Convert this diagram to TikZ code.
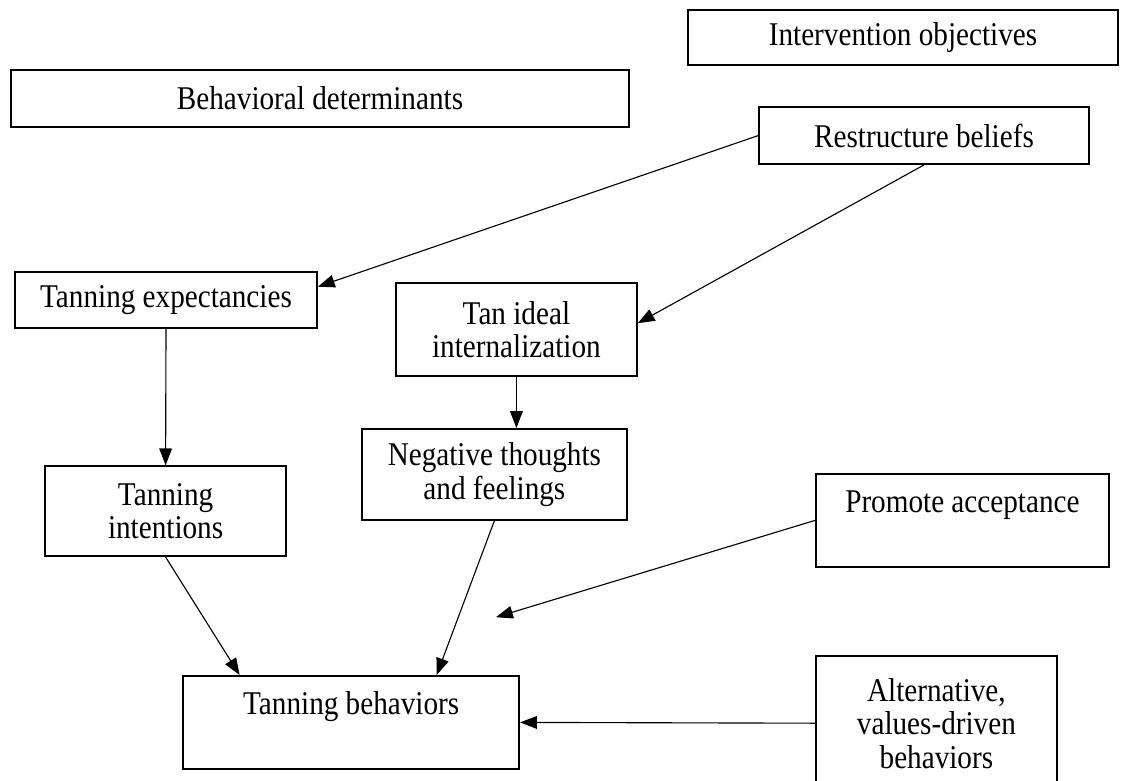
\documentclass[tikz,border=0pt]{standalone}
\usepackage{fontspec}
\setmainfont[FakeStretch=0.88]{Liberation Serif}
\usetikzlibrary{arrows.meta}
\tikzset{
  model box/.style={draw,line width=1.2pt,inner sep=0pt,align=center,
    font=\fontsize{23.6}{23.8}\selectfont},
  top text/.style={text depth=0.95cm},
  model arrow/.style={line width=.8pt,-{Triangle[length=12pt,width=9pt]}}
}

\begin{document}
\begin{tikzpicture}[line join=miter]
  \useasboundingbox (0,0) rectangle (28.075,-19.525);
  \clip (0,0) rectangle (28.075,-19.525);

  % Column headings.
  \node[model box,minimum width=10.75cm,minimum height=1.375cm] (objectives) at (22.575,-0.94) {Intervention objectives};
  \node[model box,minimum width=15.45cm,minimum height=1.425cm] (determinants) at (8.0,-2.46) {Behavioral determinants};

  % Determinants.
  \node[model box,minimum width=7.55cm,minimum height=1.4cm] (expect) at (4.15,-7.5) {Tanning expectancies};
  \node[model box,minimum width=6.025cm,minimum height=2.325cm] (ideal) at (12.91,-8.24) {Tan ideal\\internalization};
  \node[model box,minimum width=6.025cm,minimum height=2.25cm] (intent) at (4.14,-12.78) {Tanning\\intentions};
  \node[model box,minimum width=6.625cm,minimum height=2.275cm] (neg) at (12.36,-11.86) {Negative thoughts\\and feelings};
  \node[model box,top text,minimum width=8.4cm,minimum height=2.325cm] (behav) at (8.78,-18.06) {Tanning behaviors};

  % Objectives.
  \node[model box,minimum width=8.25cm,minimum height=1.425cm] (restructure) at (23.1,-3.39) {Restructure beliefs};
  \node[model box,top text,minimum width=7.325cm,minimum height=2.325cm] (accept) at (24.06,-13.01) {Promote acceptance};
  \node[model box,minimum width=6.025cm,minimum height=3.35cm] (alt) at (23.41,-18.08) {Alternative,\\values-driven\\behaviors};
  \coordinate (aim) at (12.4,-15.43);

  \draw[model arrow] (restructure.west) -- (expect.5);
  \draw[model arrow] (restructure.south) -- (ideal.3);
  \draw[model arrow] (expect.south) -- (intent.north);
  \draw[model arrow] (ideal.south) -- (ideal.south |- neg.north);
  \draw[model arrow] (intent.south) -- (behav.157);
  \draw[model arrow] (neg.south) -- (behav.29);
  \draw[model arrow] (accept.west) -- (aim);
  \draw[model arrow] (alt.west) -- (behav.east);
\end{tikzpicture}
\end{document}
